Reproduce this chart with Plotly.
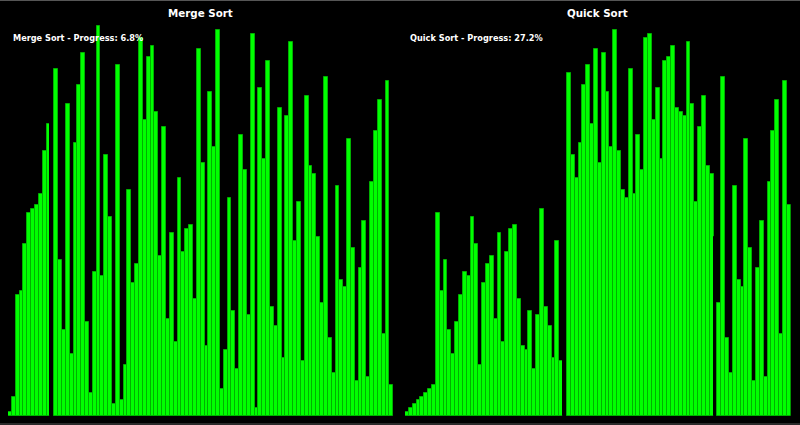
import plotly.graph_objects as go

# ---- data ----
merge_values = [1, 5, 31, 32, 44, 52, 53, 54, 57, 68, 75, 88, 89, 40, 22, 80, 16, 70, 85, 93,
                24, 6, 37, 100, 36, 67, 51, 3, 90, 4, 13, 58, 34, 39, 97, 76, 92, 95, 78, 41,
                74, 25, 47, 19, 61, 42, 48, 49, 30, 94, 65, 18, 83, 69, 99, 7, 17, 56, 27, 12,
                72, 63, 26, 98, 2, 84, 66, 91, 28, 23, 79, 15, 77, 96, 45, 55, 14, 82, 64, 62,
                46, 29, 87, 20, 11, 59, 35, 33, 71, 43, 9, 38, 50, 10, 60, 73, 81, 21, 86, 8]
merge_highlight = [11]

quick_values = [1, 2, 3, 4, 5, 6, 7, 8, 52, 32, 40, 22, 16, 24, 31, 37, 36, 51, 44, 13,
                34, 39, 41, 25, 47, 19, 42, 48, 49, 30, 18, 17, 27, 12, 26, 53, 28, 23, 15, 45,
                14, 100, 88, 67, 61, 70, 85, 90, 75, 94, 65, 93, 83, 69, 99, 68, 58, 56, 89, 57,
                72, 63, 97, 98, 76, 84, 66, 91, 92, 95, 79, 78, 77, 96, 80, 55, 74, 82, 64, 62,
                46, 29, 87, 20, 11, 59, 35, 33, 71, 43, 9, 38, 50, 10, 60, 73, 81, 21, 86, 54]
quick_highlight = [41, 80]

titles = ["Merge Sort", "Quick Sort"]
progress_labels = ["Merge Sort - Progress: 6.8%", "Quick Sort - Progress: 27.2%"]

BAR = "#00ff00"
EDGE = "#00b000"
HL = "#000000"


def colors(n, hl, base):
    return [HL if i in hl else base for i in range(n)]


fig = go.Figure()
for k, (vals, hl) in enumerate([(merge_values, merge_highlight), (quick_values, quick_highlight)]):
    n = len(vals)
    fig.add_trace(go.Bar(
        x=list(range(n)), y=vals,
        marker=dict(color=colors(n, hl, BAR),
                    line=dict(color=colors(n, hl, EDGE), width=1)),
        xaxis="x" if k == 0 else "x2", yaxis="y" if k == 0 else "y2",
        showlegend=False, hoverinfo="skip",
    ))

W, H = 800, 425
ydom = [9 / H, 1.0]
yr = [0, 416 / 3.9]
common_x = dict(range=[-0.5, 99.5], showgrid=False, zeroline=False, showticklabels=False,
                ticks="", showline=False, fixedrange=True)
common_y = dict(range=yr, domain=ydom, showgrid=False, zeroline=False, showticklabels=False,
                ticks="", showline=False, fixedrange=True)

fig.update_layout(
    width=W, height=H,
    margin=dict(l=0, r=0, t=0, b=0),
    paper_bgcolor="black", plot_bgcolor="black",
    bargap=0,
    xaxis=dict(domain=[8 / W, 393.3 / W], **common_x),
    xaxis2=dict(domain=[405 / W, 790.7 / W], **common_x),
    yaxis=dict(anchor="x", **common_y),
    yaxis2=dict(anchor="x2", **common_y),
    font=dict(family="DejaVu Sans", color="white"),
)

centers = [(8 + 393.3) / 2 / W, (405 + 790.7) / 2 / W]
starts = [11 / W, 408 / W]
for k in range(2):
    fig.add_annotation(text="<b>%s</b>" % titles[k], xref="paper", yref="paper",
                       x=centers[k], y=1 - 13 / H, xanchor="center", yanchor="middle",
                       showarrow=False, font=dict(size=10.3, color="white", family="DejaVu Sans"))
    fig.add_annotation(text="<b>%s</b>" % progress_labels[k], xref="paper", yref="paper",
                       x=starts[k], y=1 - 38 / H, xanchor="left", yanchor="middle",
                       showarrow=False, font=dict(size=8.2, color="white", family="DejaVu Sans"))

fig.add_shape(type="line", xref="paper", yref="paper", x0=0, x1=1, y0=1 - 0.5 / H, y1=1 - 0.5 / H,
              line=dict(color="#555555", width=1))
fig.add_shape(type="line", xref="paper", yref="paper", x0=0, x1=1, y0=1 / H, y1=1 / H,
              line=dict(color="#555555", width=1))

fig.write_html("out.html")
